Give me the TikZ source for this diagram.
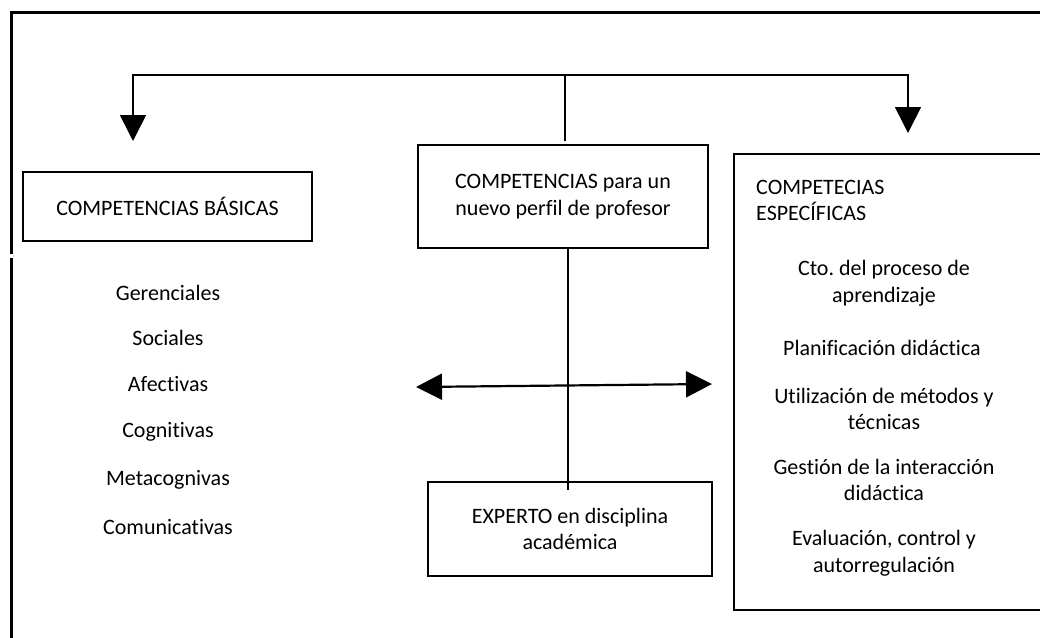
\documentclass[tikz,border=0pt]{standalone}
\usepackage{fontspec}
\setmainfont{Carlito}[Ligatures=NoCommon]
\usetikzlibrary{arrows.meta}
\frenchspacing
\begin{document}
\begin{tikzpicture}[x=1pt,y=-1pt,
  box/.style={draw,line width=2.7pt,inner sep=0pt,minimum width=#1},
  txt/.style={inner sep=0pt,align=center,font=\fontsize{22}{26.5}\selectfont},
  conn/.style={line width=1.9pt},
  tip/.style={-{Triangle[length=26pt,width=26pt]}},
  frame/.style={line width=3pt}]
\useasboundingbox (0,0) rectangle (1040,637);

% outer frame (left side has a small break)
\draw[frame] (10,12) -- (1042,12);
\draw[frame] (11,12) -- (11,254);
\draw[frame] (11,258) -- (11,640);

% boxes
\node[box=289pt,minimum height=69pt,txt] (basic) at (167.5,206.5) {COMPETENCIAS BÁSICAS};
\node[box=290pt,minimum height=103pt,txt] (center) at (563,196.5)
  {COMPETENCIAS para un\\nuevo perfil de profesor};
\node[box=284pt,minimum height=94pt,txt] (expert) at (570,529)
  {EXPERTO en disciplina\\académica};
\draw[line width=2.7pt] (1044,154) -- (734,154) -- (734,610) -- (1044,610);
\coordinate (specNW) at (734,154);

% contents of the right-hand box
\node[txt,align=left,anchor=north west] (spechead) at (756,180)
  {COMPETECIAS\\ESPECÍFICAS};
\node[txt] (s1) at (884,283) {Cto. del proceso de\\aprendizaje};
\node[txt] (s2) at (882,348) {Planificación didáctica};
\node[txt] (s3) at (884,409) {Utilización de métodos y\\técnicas};
\node[txt] (s4) at (884,480) {Gestión de la interacción\\didáctica};
\node[txt] (s5) at (884,553) {Evaluación, control y\\autorregulación};

% list of basic competences
\node[txt] (b1) at (168,293) {Gerenciales};
\node[txt] (b2) at (168,338) {Sociales};
\node[txt] (b3) at (168,384) {Afectivas};
\node[txt] (b4) at (168,432) {Cognitivas};
\node[txt] (b5) at (168,480) {Metacognivas};
\node[txt] (b6) at (168,527) {Comunicativas};

% top branching connector
\coordinate (stem) at (565,141);
\coordinate (join) at (565,75);
\coordinate (ltip) at (133,141);
\coordinate (rtip) at (908,133);
\draw[conn] (stem) -- (join);
\draw[conn,line width=1.6pt,tip] (join) -| (ltip);
\draw[conn,line width=1.6pt,tip] (join) -| (rtip);

% vertical axis between the central boxes
\coordinate (vend) at (568,490);
\draw[conn,line width=2.4pt] (center.south -| vend) -- (vend);

% horizontal double arrow
\coordinate (hl) at (416,387);
\coordinate (hr) at (712,384);
\draw[conn,line width=2.2pt,{Triangle[length=26pt,width=26pt]}-{Triangle[length=26pt,width=26pt]}] (hl) -- (hr);
\end{tikzpicture}
\end{document}
